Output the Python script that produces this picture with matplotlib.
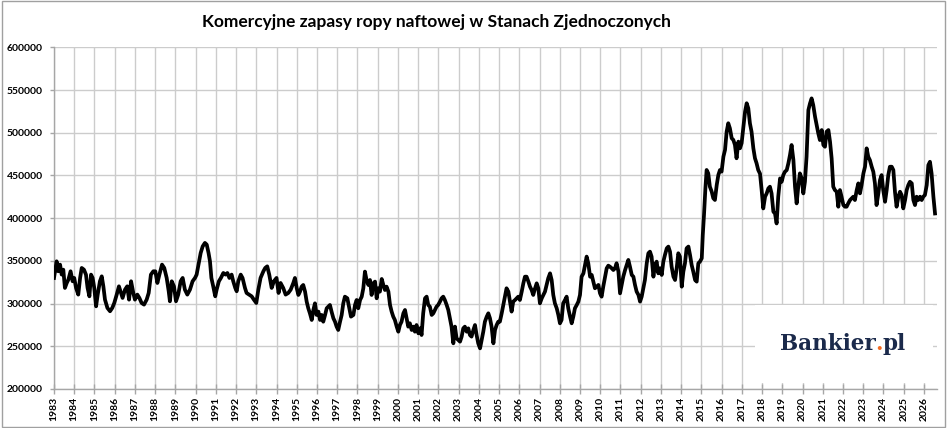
import matplotlib
matplotlib.use("Agg")
import matplotlib.pyplot as plt
from matplotlib.patches import Rectangle
import numpy as np

# ---- data (commercial crude oil stocks) ----
years_1983_1994 = [
    1983.00, 1983.13, 1983.21, 1983.30, 1983.38, 1983.46, 1983.54, 1983.63, 1983.71, 1983.82, 1983.92,
    1984.00, 1984.09, 1984.20, 1984.29, 1984.37, 1984.48, 1984.58, 1984.66, 1984.75, 1984.83, 1984.91, 1984.99,
    1985.08, 1985.16, 1985.27, 1985.36, 1985.44, 1985.52, 1985.64, 1985.77, 1985.88, 1985.98,
    1986.10, 1986.21, 1986.31, 1986.39, 1986.51, 1986.62, 1986.71, 1986.81, 1986.92,
    1987.00, 1987.12, 1987.22, 1987.33, 1987.45, 1987.58, 1987.68, 1987.79, 1987.91,
    1988.01, 1988.11, 1988.21, 1988.34, 1988.45, 1988.57, 1988.67, 1988.73, 1988.82, 1988.93,
    1989.03, 1989.14, 1989.26, 1989.36, 1989.47, 1989.59, 1989.72, 1989.85, 1989.97,
    1990.05, 1990.17, 1990.25, 1990.35, 1990.46, 1990.55, 1990.64, 1990.71, 1990.78, 1990.87, 1990.97,
    1991.04, 1991.15, 1991.25, 1991.37, 1991.48, 1991.57, 1991.67, 1991.78, 1991.86, 1991.96,
    1992.03, 1992.11, 1992.23, 1992.32, 1992.44, 1992.52, 1992.64, 1992.77, 1992.88,
    1993.00, 1993.10, 1993.21, 1993.35, 1993.44, 1993.54, 1993.64, 1993.76, 1993.87,
    1994.00, 1994.10, 1994.20, 1994.33, 1994.45, 1994.58, 1994.70, 1994.83, 1994.91,
]
stocks_1983_1994 = [
    330000, 349500, 337800, 345600, 333900, 339700, 318300, 324100, 328000, 337800, 326100,
    330000, 318300, 310500, 330000, 341700, 339700, 333900, 318300, 308500, 333900, 330000, 318300,
    296800, 310500, 326100, 331900, 320200, 304600, 294900, 291000, 294900, 300700,
    310500, 320200, 312400, 306600, 316300, 320200, 304600, 326100, 312400,
    304600, 310500, 306600, 300700, 298800, 304600, 312400, 333900, 337800,
    337800, 324100, 333900, 345600, 341700, 330000, 314400, 302700, 326100, 320200,
    302700, 310500, 326100, 330000, 316300, 310500, 316300, 326100, 330000,
    333900, 349500, 359200, 367000, 371000, 369000, 359200, 349500, 330000, 320200, 308500,
    316300, 326100, 330000, 335800, 333900, 335800, 330000, 333900, 326100, 318300,
    314400, 326100, 333900, 330000, 318300, 312400, 310500, 308500, 304600,
    300700, 316300, 330000, 337800, 341700, 343600, 333900, 318300, 326100,
    330000, 312400, 324100, 318300, 310500, 312400, 316300, 324100, 330000,
]

years_1995_2006 = [
    1995.00, 1995.08, 1995.16, 1995.24, 1995.32, 1995.41, 1995.49, 1995.57, 1995.65, 1995.74, 1995.82, 1995.90, 1995.98,
    1996.07, 1996.15, 1996.23, 1996.31, 1996.40, 1996.48, 1996.56, 1996.64, 1996.72, 1996.81, 1996.89, 1996.97,
    1997.05, 1997.14, 1997.22, 1997.30, 1997.38, 1997.50, 1997.60, 1997.68, 1997.80, 1997.88, 1997.96,
    1998.04, 1998.13, 1998.21, 1998.29, 1998.37, 1998.45, 1998.54, 1998.62, 1998.70, 1998.78, 1998.87, 1998.95,
    1999.03, 1999.11, 1999.20, 1999.28, 1999.36, 1999.44, 1999.53, 1999.61, 1999.69, 1999.77, 1999.85, 1999.94,
    2000.02, 2000.10, 2000.18, 2000.27, 2000.35, 2000.43, 2000.51, 2000.59, 2000.68, 2000.76, 2000.84, 2000.92,
    2001.01, 2001.09, 2001.17, 2001.25, 2001.34, 2001.42, 2001.50, 2001.58, 2001.67, 2001.75, 2001.83, 2001.91, 2001.99,
    2002.08, 2002.16, 2002.24, 2002.32, 2002.41, 2002.49, 2002.57, 2002.65, 2002.74, 2002.82, 2002.90, 2002.98,
    2003.07, 2003.15, 2003.23, 2003.31, 2003.40, 2003.48, 2003.56, 2003.64, 2003.73, 2003.81, 2003.89, 2003.97,
    2004.06, 2004.14, 2004.22, 2004.30, 2004.39, 2004.47, 2004.55, 2004.63, 2004.72, 2004.80, 2004.88, 2004.96,
    2005.04, 2005.13, 2005.21, 2005.29, 2005.37, 2005.46, 2005.54, 2005.62, 2005.70, 2005.79, 2005.87, 2005.95,
    2006.03, 2006.12, 2006.20, 2006.28,
]
stocks_1995_2006 = [
    317900, 310100, 314000, 319800, 321800, 314000, 302300, 294500, 288600, 280800, 292500, 300300, 286700,
    290600, 280800, 286700, 278800, 286700, 294500, 296400, 298400, 290600, 282800, 278800, 273000,
    269100, 278800, 286700, 300300, 308100, 306200, 294500, 284700, 286700, 298400, 304200,
    294500, 304200, 308100, 317900, 337400, 327600, 321800, 327600, 310100, 323700, 325700, 306200,
    317900, 314000, 328800, 321800, 315900, 319800, 314000, 298400, 290600, 284700, 280800, 273000,
    267100, 274900, 278800, 288600, 292500, 282800, 273000, 276900, 269100, 273000, 267100, 274900,
    265200, 271000, 263200, 288600, 306200, 308100, 298400, 296400, 286700, 288600, 292500, 296400, 298400,
    302300, 306200, 308100, 304200, 298400, 292500, 282800, 273000, 253500, 273000, 259300, 257400,
    255400, 261300, 271000, 273000, 267100, 271000, 263200, 261300, 269100, 274900, 263200, 253500,
    247600, 257400, 267100, 278800, 284700, 288600, 282800, 273000, 253500, 269100, 274900, 278800,
    278800, 288600, 298400, 308100, 317900, 314000, 302300, 290600, 302300, 304200, 306200, 308100,
    304200, 314000, 323700, 331500,
]

years_2006_2017 = [
    2006.36, 2006.45, 2006.53, 2006.61, 2006.69, 2006.78, 2006.86, 2006.94,
    2007.02, 2007.11, 2007.19, 2007.27, 2007.35, 2007.43, 2007.52, 2007.60, 2007.68, 2007.76, 2007.85, 2007.93,
    2008.01, 2008.09, 2008.17, 2008.26, 2008.34, 2008.42, 2008.51, 2008.59, 2008.67, 2008.75, 2008.84, 2008.92,
    2009.00, 2009.08, 2009.17, 2009.25, 2009.33, 2009.41, 2009.50, 2009.58, 2009.66, 2009.74, 2009.82, 2009.91, 2009.99,
    2010.07, 2010.15, 2010.24, 2010.32, 2010.40, 2010.48, 2010.57, 2010.65, 2010.73, 2010.81, 2010.90, 2010.98,
    2011.06, 2011.14, 2011.23, 2011.31, 2011.39, 2011.47, 2011.56, 2011.64, 2011.72, 2011.80, 2011.89, 2011.97,
    2012.05, 2012.13, 2012.21, 2012.30, 2012.38, 2012.46, 2012.54, 2012.63, 2012.71, 2012.79, 2012.87, 2012.96,
    2013.04, 2013.12, 2013.20, 2013.29, 2013.37, 2013.45, 2013.53, 2013.62, 2013.70, 2013.78, 2013.86, 2013.94,
    2014.03, 2014.11, 2014.19, 2014.27, 2014.36, 2014.44, 2014.52, 2014.60, 2014.69, 2014.77, 2014.85, 2014.93,
    2015.02, 2015.07, 2015.13, 2015.20, 2015.26, 2015.34, 2015.42, 2015.51, 2015.59, 2015.67, 2015.76, 2015.84, 2015.92,
    2016.00, 2016.09, 2016.17, 2016.25, 2016.33, 2016.41, 2016.50, 2016.58, 2016.66, 2016.74, 2016.83, 2016.91, 2016.99,
    2017.07, 2017.16, 2017.24, 2017.32, 2017.40, 2017.48, 2017.57, 2017.65, 2017.73, 2017.81,
]
stocks_2006_2017 = [
    331500, 325700, 319800, 315900, 310100, 317900, 323700, 317900,
    300300, 306200, 310100, 314000, 321800, 329600, 335400, 327600, 310100, 300300, 294500, 286700,
    276900, 280800, 300300, 304200, 308100, 294500, 284700, 276900, 284700, 294500, 298400, 302300,
    310100, 331500, 335400, 345200, 355000, 347200, 331500, 333500, 325700, 317900, 319800, 321800, 312000,
    308100, 319800, 331500, 341300, 344400, 343200, 341300, 339300, 341300, 347200, 337400, 312000,
    321800, 331500, 339300, 345200, 351100, 343200, 333500, 331500, 321800, 314000, 310100, 302300,
    308100, 317900, 327600, 347200, 358900, 360800, 355000, 331500, 345200, 349100, 335400, 341300,
    333500, 349100, 356900, 364700, 366700, 360800, 343200, 331500, 327600, 341300, 358900, 355000,
    319800, 337400, 347200, 364700, 366700, 356900, 345200, 337400, 327600, 325700, 347200, 349100,
    353000, 380300, 403700, 435000, 456400, 452500, 436900, 431100, 423300, 421300, 438900, 450600, 456400,
    454500, 472000, 479900, 501300, 511100, 505200, 493500, 491600, 485700, 470100, 489600, 481800, 487700,
    505200, 524700, 534500, 528600, 511100, 501300, 481800, 470100, 464200, 456400,
]

years_2017_2026 = [
    2017.90, 2017.98,
    2018.06, 2018.15, 2018.23, 2018.31, 2018.39, 2018.47, 2018.56, 2018.64, 2018.72, 2018.80, 2018.89, 2018.97,
    2019.05, 2019.13, 2019.22, 2019.30, 2019.38, 2019.46, 2019.55, 2019.63, 2019.71, 2019.79, 2019.87, 2019.96,
    2020.04, 2020.12, 2020.20, 2020.29, 2020.37, 2020.45, 2020.53, 2020.62, 2020.70, 2020.78, 2020.86, 2020.95,
    2021.03, 2021.11, 2021.19, 2021.28, 2021.36, 2021.44, 2021.52, 2021.60, 2021.69, 2021.77, 2021.85, 2021.93,
    2022.02, 2022.10, 2022.18, 2022.26, 2022.35, 2022.43, 2022.51, 2022.59, 2022.68, 2022.76, 2022.84, 2022.92,
    2023.01, 2023.09, 2023.17, 2023.25, 2023.33, 2023.42, 2023.50, 2023.58, 2023.66, 2023.75, 2023.83, 2023.91, 2023.99,
    2024.08, 2024.16, 2024.24, 2024.32, 2024.41, 2024.49, 2024.57, 2024.65, 2024.74, 2024.82, 2024.90, 2024.98,
    2025.07, 2025.15, 2025.23, 2025.31, 2025.40, 2025.48, 2025.56, 2025.64, 2025.72, 2025.81, 2025.89, 2025.97,
    2026.05, 2026.14, 2026.22, 2026.30, 2026.38, 2026.47, 2026.55,
]
stocks_2017_2026 = [
    452000, 432900,
    411400, 425100, 429000, 434800, 436800, 429000, 407500, 405500, 393800, 425100, 446500, 442600,
    450400, 454300, 456300, 464100, 473800, 485600, 468000, 436800, 417300, 436800, 452400, 446500,
    429000, 442600, 471900, 526500, 534300, 540200, 532400, 518700, 509000, 499200, 491400, 503100,
    485600, 483600, 501200, 503100, 489500, 469900, 436800, 432900, 430900, 413400, 432900, 425100,
    415300, 413400, 413400, 417300, 421200, 423100, 425100, 421200, 432900, 440700, 429000, 438700,
    452400, 460200, 481700, 471900, 468000, 460200, 454300, 440700, 415300, 429000, 444600, 450400, 432900,
    419200, 432900, 450400, 460200, 460200, 456300, 430900, 413400, 425100, 430900, 427000, 411400,
    421200, 432900, 438700, 442600, 440700, 421200, 415300, 425100, 421200, 425100, 421200, 425100,
    427000, 438700, 462100, 466000, 452400, 425100, 405500,
]

tick_years = list(range(1983, 2027))
y_ticks = [200000, 250000, 300000, 350000, 400000, 450000, 500000, 550000, 600000]
title_text = "Komercyjne zapasy ropy naftowej w Stanach Zjednoczonych"
logo_head, logo_dot, logo_tail = "Bankier", ".", "pl"

years = np.array(years_1983_1994 + years_1995_2006 + years_2006_2017 + years_2017_2026)
stocks = np.array(stocks_1983_1994 + stocks_1995_2006 + stocks_2006_2017 + stocks_2017_2026)

# ---- figure ----
plt.rcParams['font.family'] = ['Lato', 'DejaVu Sans']
W, H = 948, 428
fig = plt.figure(figsize=(W / 100, H / 100), dpi=100)
fig.patch.set_facecolor('white')

ax = fig.add_axes([54 / W, 1 - 389 / H, (937 - 54) / W, (389 - 47.3) / H])
ax.set_axisbelow(True)
ax.plot(years, stocks, color='black', linewidth=2.7, solid_joinstyle='round', zorder=3)

ax.set_xlim(1983, 2026.648)
ax.set_ylim(200000, 600000)
ax.set_xticks(tick_years)
ax.set_xticklabels([str(y) for y in tick_years], rotation=90, fontsize=7.5,
                   fontweight='bold')
ax.set_yticks(y_ticks)
ax.set_yticklabels([str(v) for v in y_ticks], fontsize=7.5, fontweight='bold')

grid_c = '#cccccc'
ax.grid(True, color=grid_c, linewidth=1.0)
for s in ['top', 'right']:
    ax.spines[s].set_visible(False)
for s in ['left', 'bottom']:
    ax.spines[s].set_color('#a6a6a6')
    ax.spines[s].set_linewidth(1.0)
ax.tick_params(axis='x', direction='inout', length=7, width=1.0, color='#a6a6a6', pad=2)
ax.tick_params(axis='y', direction='out', length=3, width=1.0, color='#a6a6a6', pad=5)

# white box behind the logo
ax.add_patch(Rectangle((0.794, 0.018), 0.201, 0.228, transform=ax.transAxes,
                       facecolor='white', edgecolor='none', zorder=1.5))

# logo: "Bankier" navy, "." orange, "pl" navy, laid out as one word
navy = '#1b2a4b'
orange = '#f26a21'
logo_kw = dict(fontsize=15.5, fontweight='bold', family='DejaVu Serif',
               va='baseline', transform=ax.transAxes, zorder=4)
lx, ly = 0.9649, 0.1127
renderer = fig.canvas.get_renderer()
probe = {}
for key, s in (('full', logo_head + logo_dot + logo_tail),
               ('head', logo_head),
               ('headdot', logo_head + logo_dot)):
    t = ax.text(0.5, ly, s, ha='left', color='none', **logo_kw)
    probe[key] = t.get_window_extent(renderer).width
    t.remove()
x_right = ax.transAxes.transform((lx, 0))[0]
x_left = x_right - probe['full']
inv = ax.transAxes.inverted()
ax.text(inv.transform((x_left - 2.0, 0))[0], ly, logo_head, ha='left', color=navy, **logo_kw)
ax.text(inv.transform((x_left + probe['headdot'], 0))[0], ly, logo_dot, ha='right',
        color=orange, **logo_kw)
ax.text(lx, ly, logo_tail, ha='right', color=navy, **logo_kw)

# title
fig.text(436 / W, 1 - 22 / H, title_text, ha='center', va='center', fontsize=12.5,
         fontweight='bold', color='black')

# outer chart border
fig.add_artist(Rectangle((1.5 / W, 1.0 / H), (945 - 1.5) / W, (427 - 1.0) / H,
                         transform=fig.transFigure, facecolor='none',
                         edgecolor='#a0a0a0', linewidth=1.0))

fig.savefig('out.png', dpi=100, facecolor='white')
